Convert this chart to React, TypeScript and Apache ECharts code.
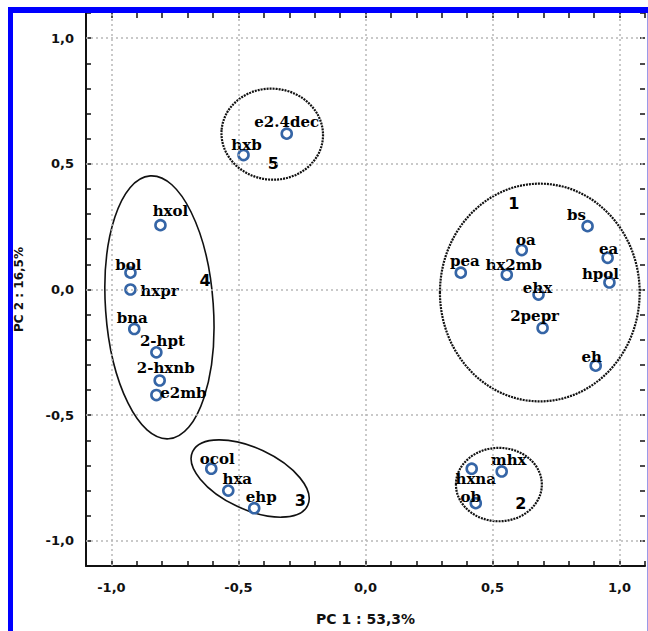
import React, { useEffect, useRef } from "react";
import * as echarts from "echarts";

// ---- data ----
const pointNames = [
  "e2.4dec", "hxb", "hxol", "bol", "hxpr", "bna", "2-hpt", "2-hxnb", "e2mb",
  "ocol", "hxa", "ehp", "hxna", "mhx", "ob",
  "bs", "ea", "hpol", "oa", "pea", "hx2mb", "ehx", "2pepr", "eh",
];
const pc1Values = [
  -0.31, -0.48, -0.807, -0.925, -0.925, -0.91, -0.823, -0.81, -0.823,
  -0.607, -0.54, -0.438, 0.418, 0.536, 0.434,
  0.874, 0.953, 0.96, 0.615, 0.375, 0.556, 0.681, 0.697, 0.906,
];
const pc2Values = [
  0.62, 0.535, 0.256, 0.067, 0.0, -0.157, -0.25, -0.362, -0.42,
  -0.713, -0.8, -0.87, -0.713, -0.724, -0.85,
  0.252, 0.126, 0.028, 0.157, 0.067, 0.059, -0.02, -0.153, -0.303,
];

const clusterNames = ["1", "2", "3", "4", "5"];
const clusterX = [0.584, 0.611, -0.257, -0.631, -0.363];
const clusterY = [0.343, -0.85, -0.839, 0.035, 0.5];

// ellipse: [centre PC1, centre PC2, radius PC1, radius PC2, tilt deg]
const ellipse1 = [0.686, -0.012, 0.393, 0.433, 0];
const ellipse2 = [0.525, -0.776, 0.169, 0.146, 0];
const ellipse3 = [-0.454, -0.752, 0.25, 0.122, -25];
const ellipse4 = [-0.811, -0.071, 0.212, 0.524, 4];
const ellipse5 = [-0.367, 0.618, 0.2, 0.181, -5];

const tickValues = [-1.0, -0.5, 0.0, 0.5, 1.0];
const axisMin = -1.1;
const axisMax = 1.1;
const xTitle = "PC 1 : 53,3%";
const yTitle = "PC 2 : 16,5%";

// ---- styling (not data) ----
const labelOffsets: Record<string, [number, number]> = {
  "e2.4dec": [0, -12], hxb: [3, -10], hxol: [10, -14], bol: [-2, -8],
  hxpr: [29, 1], bna: [-2, -11], "2-hpt": [6, -11], "2-hxnb": [6, -12],
  e2mb: [27, -2], ocol: [6, -10], hxa: [9, -12], ehp: [7, -11],
  hxna: [4, 10], mhx: [7, -11], ob: [-5, -6], bs: [-11, -11], ea: [1, -9],
  hpol: [-9, -8], oa: [4, -10], pea: [4, -12], hx2mb: [7, -10],
  ehx: [-1, -7], "2pepr": [-8, -12], eh: [-4, -9],
};
const ellipseDotted = [true, true, false, false, true];

function tickFormatter(v: number): string {
  const hit = tickValues.find((t) => Math.abs(t - v) < 1e-6);
  if (hit === undefined) return "";
  return hit.toFixed(1).replace(".", ",");
}

export default function App() {
  const ref = useRef<HTMLDivElement>(null);
  useEffect(() => {
    if (!ref.current) return;
    const chart = echarts.init(ref.current, undefined, { renderer: "svg" });

    const tickFont = {
      fontFamily: "DejaVu Sans",
      fontWeight: "bold" as const,
      fontSize: 13,
      color: "#111",
    };
    const axisCommon = {
      type: "value" as const,
      min: axisMin,
      max: axisMax,
      interval: 0.1,
      splitLine: { show: false },
      axisLine: { show: true, onZero: false, lineStyle: { color: "#111", width: 2 } },
      axisTick: { show: true, inside: true, length: 5, lineStyle: { color: "#111", width: 1.5 } },
    };

    const points = pointNames.map((n, i) => ({
      name: n,
      value: [pc1Values[i], pc2Values[i]],
      label: { offset: labelOffsets[n] || [0, -10] },
    }));
    const clusters = clusterNames.map((n, i) => ({ name: n, value: [clusterX[i], clusterY[i]] }));
    const ellipses = [ellipse1, ellipse2, ellipse3, ellipse4, ellipse5];

    chart.setOption({
      animation: false,
      backgroundColor: "#fff",
      grid: { left: 86, right: 1, top: 13, bottom: 59, containLabel: false },
      xAxis: [
        {
          ...axisCommon,
          position: "bottom",
          axisLabel: { ...tickFont, margin: 15, formatter: tickFormatter },
          name: xTitle,
          nameLocation: "middle",
          nameGap: 46,
          nameTextStyle: { fontFamily: "DejaVu Sans", fontWeight: "bold", fontSize: 14, color: "#111" },
        },
        {
          ...axisCommon,
          position: "top",
          axisLine: { show: false, onZero: false },
          axisLabel: { show: false },
        },
      ],
      yAxis: [
        {
          ...axisCommon,
          position: "left",
          axisLabel: { ...tickFont, margin: 12, formatter: tickFormatter },
          name: yTitle,
          nameLocation: "middle",
          nameGap: 61,
          nameTextStyle: { fontFamily: "DejaVu Sans", fontWeight: "bold", fontSize: 12, color: "#111" },
        },
        {
          ...axisCommon,
          position: "right",
          axisLine: { show: false, onZero: false },
          axisLabel: { show: false },
        },
      ],
      graphic: [
        { type: "rect", shape: { x: 8, y: 7, width: 5, height: 624 }, style: { fill: "#0000ff" }, z: 100 },
        { type: "rect", shape: { x: 8, y: 7, width: 640, height: 6 }, style: { fill: "#0000ff" }, z: 100 },
        { type: "rect", shape: { x: 647, y: 13, width: 1, height: 618 }, style: { fill: "#9a9ae8" }, z: 100 },
      ],
      series: [
        {
          type: "custom",
          name: "clusters",
          coordinateSystem: "cartesian2d",
          clip: false,
          silent: true,
          encode: { x: 0, y: 1 },
          data: ellipses,
          renderItem: (params: any, api: any) => {
            const c = api.coord([api.value(0), api.value(1)]);
            const s = api.size([api.value(2), api.value(3)]);
            const dotted = ellipseDotted[params.dataIndex];
            return {
              type: "ellipse",
              x: c[0],
              y: c[1],
              rotation: (api.value(4) * Math.PI) / 180,
              shape: { cx: 0, cy: 0, rx: s[0], ry: s[1] },
              style: {
                fill: "none",
                stroke: "#111",
                lineWidth: dotted ? 2.2 : 1.6,
                lineDash: dotted ? [2, 1] : null,
              },
            };
          },
          z: 2,
        },
        {
          type: "scatter",
          name: "grid",
          data: [],
          silent: true,
          markLine: {
            silent: true,
            symbol: "none",
            label: { show: false },
            lineStyle: { color: "#b8b8b8", width: 1.5, type: [2, 3] },
            data: [
              ...tickValues.map((v) => ({ xAxis: v })),
              ...tickValues.map((v) => ({ yAxis: v })),
            ],
          },
          z: 1,
        },
        {
          type: "scatter",
          name: "samples",
          data: points,
          symbol: "circle",
          symbolSize: 10,
          itemStyle: { color: "#ffffff", borderColor: "#3565a6", borderWidth: 2.6, opacity: 1 },
          label: {
            show: true,
            position: "inside",
            formatter: "{b}",
            fontFamily: "DejaVu Serif",
            fontWeight: "bold",
            fontSize: 15,
            color: "#000",
          },
          z: 3,
        },
        {
          type: "scatter",
          name: "clusterLabels",
          data: clusters,
          symbolSize: 0,
          silent: true,
          itemStyle: { opacity: 1 },
          label: {
            show: true,
            position: "inside",
            formatter: "{b}",
            fontFamily: "DejaVu Sans",
            fontWeight: "bold",
            fontSize: 16,
            color: "#000",
          },
          z: 4,
        },
      ],
    });
    return () => chart.dispose();
  }, []);
  return (
    <div
      ref={ref}
      style={{ position: "fixed", left: 0, top: 0, width: 648, height: 631, background: "#fff" }}
    />
  );
}
